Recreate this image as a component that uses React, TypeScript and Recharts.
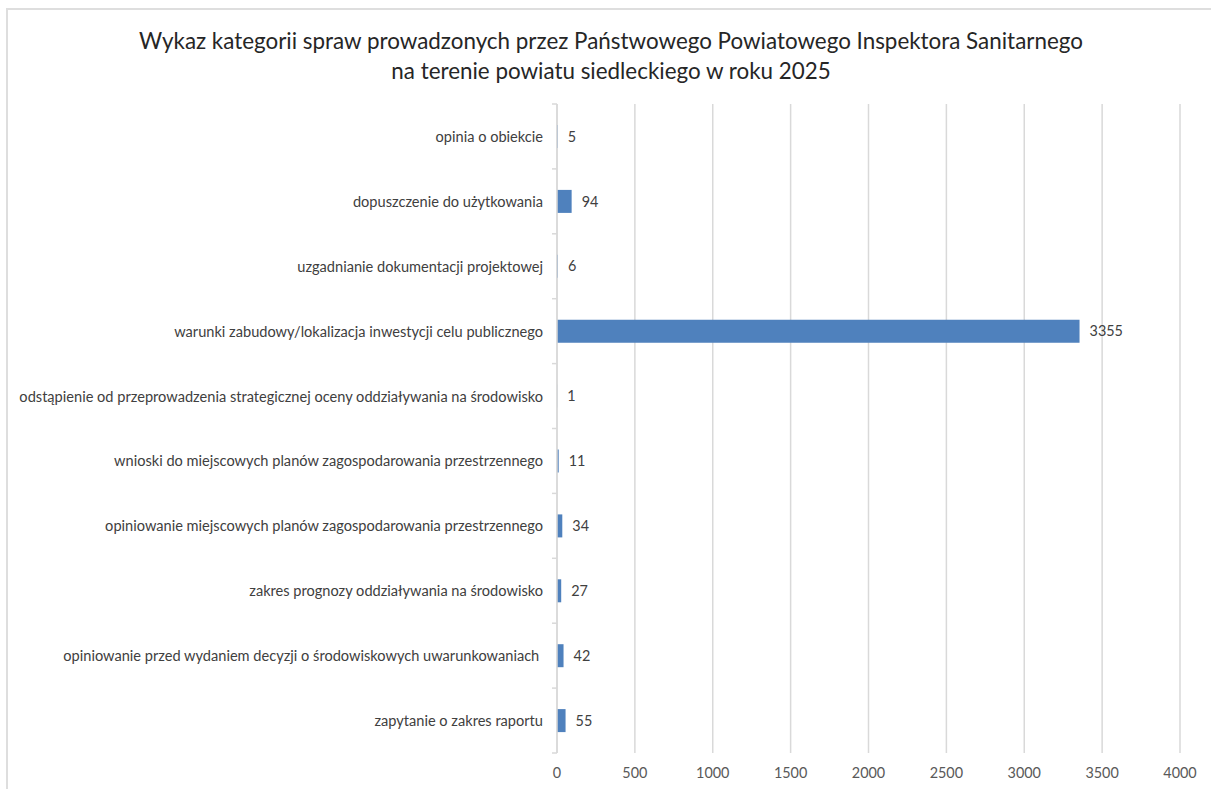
import React from "react";
import { BarChart, Bar, XAxis, YAxis, CartesianGrid, LabelList } from "recharts";

const categories = [
  "opinia o obiekcie",
  "dopuszczenie do użytkowania",
  "uzgadnianie dokumentacji projektowej",
  "warunki zabudowy/lokalizacja inwestycji celu publicznego",
  "odstąpienie od przeprowadzenia strategicznej oceny oddziaływania na środowisko",
  "wnioski do miejscowych planów zagospodarowania przestrzennego",
  "opiniowanie miejscowych planów zagospodarowania przestrzennego",
  "zakres prognozy oddziaływania na środowisko",
  "opiniowanie przed wydaniem decyzji o środowiskowych uwarunkowaniach\u00a0",
  "zapytanie o zakres raportu",
];
const values = [5, 94, 6, 3355, 1, 11, 34, 27, 42, 55];
const xTicks = [0, 500, 1000, 1500, 2000, 2500, 3000, 3500, 4000];
const titleLines = [
  "Wykaz kategorii spraw prowadzonych przez Państwowego Powiatowego Inspektora Sanitarnego",
  "na terenie powiatu siedleckiego w roku 2025",
];

const data = categories.map((name, i) => ({ name, value: values[i] }));

const W = 1211;
const H = 789;
const X_HEIGHT = 36;
const M = { top: 104, right: 31, bottom: 0, left: 0 };
const Y_WIDTH = 557;
const TICK_SIZE = 6;
const TICK_MARGIN = 2;
const FONT = "Lato, 'Noto Sans', sans-serif";
const BAND = (H - M.top - M.bottom - X_HEIGHT) / categories.length;

const CategoryTick = (props: any) => {
  const { x, y, payload, index } = props;
  const half = BAND / 2;
  const ax = x + TICK_SIZE + TICK_MARGIN;
  return (
    <g>
      <line x1={ax - 5} x2={ax} y1={y - half} y2={y - half} stroke="#d9d9d9" strokeWidth={1.5} />
      {index === categories.length - 1 && (
        <line x1={ax - 5} x2={ax} y1={y + half} y2={y + half} stroke="#d9d9d9" strokeWidth={1.5} />
      )}
      <text
        x={ax - 14}
        y={y}
        textAnchor="end"
        dominantBaseline="central"
        fill="#404040"
        fontSize={14.6}
        fontFamily={FONT}
        style={{ whiteSpace: "pre" }}
      >
        {payload.value}
      </text>
    </g>
  );
};

export default function App() {
  return (
    <div
      style={{
        position: "absolute",
        left: 0,
        top: 0,
        width: W,
        height: H,
        overflow: "hidden",
        background: "#fff",
      }}
    >
      <div
        style={{
          position: "absolute",
          left: 6,
          top: 8,
          width: W + 20,
          height: H + 20,
          borderLeft: "2px solid #dedede",
          borderTop: "2px solid #dedede",
        }}
      />
      <div
        style={{
          position: "absolute",
          left: 0,
          top: 26,
          width: 1222,
          textAlign: "center",
          fontFamily: FONT,
          fontSize: 22.4,
          lineHeight: "30px",
          color: "#262626",
        }}
      >
        {titleLines.map((l, i) => (
          <div key={i}>{l}</div>
        ))}
      </div>
      <div style={{ position: "absolute", left: 0, top: 0 }}>
        <BarChart width={W} height={H} data={data} layout="vertical" margin={M} barSize={23}>
          <CartesianGrid horizontal={false} vertical={true} stroke="#d9d9d9" strokeWidth={1.5} />
          <XAxis
            type="number"
            domain={[0, 4000]}
            ticks={xTicks}
            axisLine={false}
            tickLine={false}
            tickMargin={9}
            height={X_HEIGHT}
            tick={{ fill: "#595959", fontSize: 14.4, fontFamily: FONT }}
            interval={0}
          />
          <YAxis
            type="category"
            dataKey="name"
            width={Y_WIDTH}
            axisLine={{ stroke: "#d9d9d9", strokeWidth: 1.5 }}
            tickLine={false}
            tickSize={TICK_SIZE}
            tickMargin={TICK_MARGIN}
            tick={<CategoryTick />}
            interval={0}
          />
          <Bar dataKey="value" fill="#4f81bd" isAnimationActive={false}>
            <LabelList
              dataKey="value"
              position="right"
              offset={10}
              fill="#404040"
              fontSize={14.4}
              fontFamily={FONT}
            />
          </Bar>
        </BarChart>
      </div>
    </div>
  );
}
